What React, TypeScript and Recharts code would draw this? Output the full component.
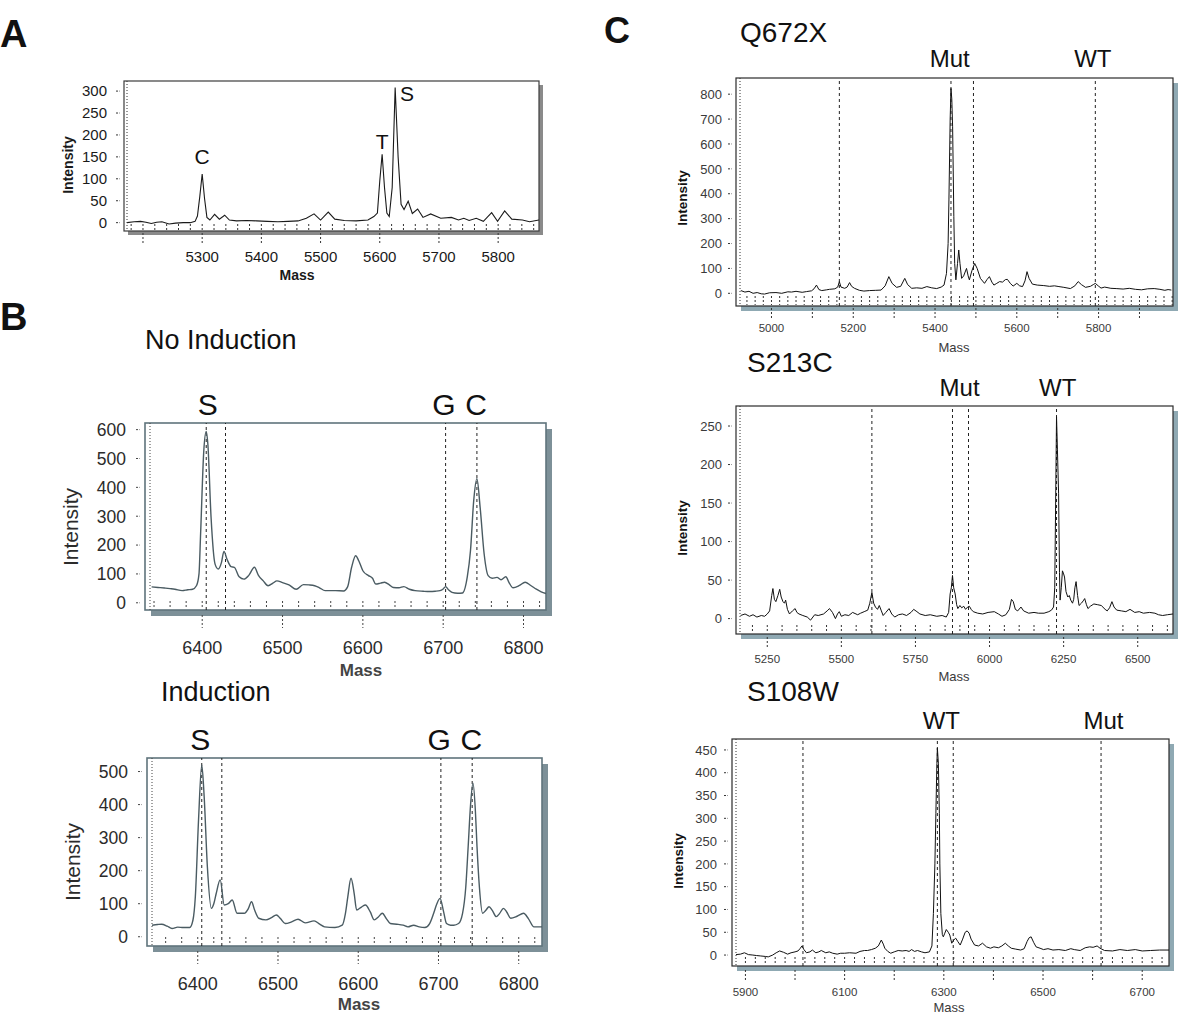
import React from "react";
import { LineChart, Line, XAxis, YAxis, ReferenceArea, ReferenceLine, ReferenceDot } from "recharts";

const FONT = '"Liberation Sans", Arial, Helvetica, sans-serif';

// ---- spectra, [mass, intensity] ----
const spectrumA: [number, number][] = [
  [5173, 0], [5185, 2], [5196, 3], [5205, 1], [5214, -2], [5223, 1], [5232, 2], [5244, -3], [5255, -1], [5268, 0],
  [5280, 0], [5288, 3], [5292, 15], [5296, 60], [5300, 111], [5304, 55], [5308, 12], [5313, 6], [5321, 19], [5329, 8],
  [5338, 17], [5346, 6], [5358, 4], [5375, 5], [5392, 4], [5410, 3], [5428, 2], [5445, 3], [5462, 4], [5476, 10],
  [5489, 20], [5500, 6], [5513, 24], [5524, 8], [5540, 5], [5560, 4], [5580, 6], [5590, 14], [5596, 22], [5600, 95],
  [5604, 156], [5608, 80], [5612, 22], [5616, 14], [5621, 80], [5626, 308], [5631, 150], [5636, 42], [5641, 30], [5648, 49],
  [5655, 21], [5664, 31], [5673, 12], [5686, 20], [5703, 10], [5721, 12], [5733, 6], [5742, 10], [5751, 5], [5763, 10],
  [5775, 3], [5789, 23], [5799, 3], [5811, 27], [5823, 8], [5841, 6], [5853, 2], [5869, 6],
];

const spectrumNoInduction: [number, number][] = [
  [6337, 55], [6345, 53], [6353, 51], [6360, 49], [6366, 47], [6375, 42], [6382, 45], [6388, 47], [6393, 60], [6396, 100],
  [6398, 239], [6402, 528], [6405, 594], [6407, 551], [6411, 297], [6416, 134], [6420, 117], [6424, 140], [6427, 178], [6431, 150],
  [6436, 125], [6440, 123], [6446, 90], [6452, 82], [6458, 95], [6465, 123], [6470, 95], [6476, 76], [6482, 59], [6488, 68],
  [6493, 76], [6500, 70], [6508, 62], [6517, 47], [6526, 63], [6533, 62], [6540, 59], [6546, 52], [6553, 42], [6566, 42],
  [6576, 41], [6581, 55], [6586, 123], [6591, 163], [6595, 145], [6600, 111], [6607, 94], [6612, 85], [6616, 65], [6622, 68],
  [6627, 71], [6633, 62], [6638, 53], [6645, 52], [6651, 56], [6658, 47], [6665, 42], [6675, 40], [6683, 39], [6690, 40],
  [6696, 42], [6700, 48], [6703, 56], [6707, 44], [6711, 36], [6718, 33], [6724, 34], [6730, 90], [6734, 181], [6738, 354],
  [6742, 430], [6746, 331], [6751, 169], [6756, 94], [6761, 85], [6767, 88], [6772, 80], [6778, 90], [6782, 70], [6787, 52],
  [6795, 60], [6802, 71], [6809, 60], [6816, 47], [6822, 38], [6828, 32],
];

const spectrumInduction: [number, number][] = [
  [6343, 35], [6350, 37], [6355, 38], [6362, 32], [6368, 25], [6375, 29], [6382, 28], [6390, 28], [6394, 50], [6397, 121],
  [6401, 354], [6405, 520], [6408, 424], [6412, 212], [6417, 86], [6420, 100], [6423, 131], [6428, 172], [6433, 96], [6438, 100],
  [6443, 111], [6449, 71], [6458, 71], [6463, 85], [6467, 106], [6471, 80], [6476, 56], [6485, 51], [6492, 58], [6498, 66],
  [6503, 55], [6509, 40], [6517, 45], [6525, 53], [6534, 42], [6545, 48], [6552, 38], [6558, 30], [6571, 28], [6580, 35],
  [6584, 70], [6587, 121], [6591, 177], [6595, 130], [6598, 81], [6604, 90], [6609, 96], [6615, 75], [6620, 51], [6625, 60],
  [6630, 71], [6635, 55], [6640, 40], [6648, 38], [6656, 35], [6662, 30], [6669, 35], [6676, 30], [6683, 28], [6689, 40],
  [6694, 71], [6698, 100], [6702, 116], [6706, 80], [6710, 40], [6715, 35], [6719, 35], [6725, 40], [6730, 71], [6734, 150],
  [6737, 273], [6740, 400], [6743, 465], [6746, 380], [6748, 273], [6751, 150], [6755, 71], [6759, 80], [6763, 91], [6767, 80],
  [6772, 61], [6776, 70], [6781, 86], [6785, 75], [6790, 56], [6798, 62], [6806, 71], [6812, 55], [6819, 30], [6829, 30],
];

const spectrumQ672X: [number, number][] = [
  [4925, 11], [4935, 5], [4945, 8], [4955, 0], [4965, 3], [4975, -2], [4983, -3], [4995, 2], [5011, 3], [5025, 0],
  [5040, 6], [5049, 5], [5060, 8], [5075, 4], [5086, 7], [5098, 10], [5104, 18], [5110, 33], [5116, 15], [5123, 11],
  [5135, 14], [5142, 16], [5155, 18], [5162, 25], [5166, 47], [5170, 25], [5179, 20], [5185, 25], [5191, 43], [5196, 28],
  [5203, 20], [5215, 12], [5226, 9], [5240, 11], [5255, 12], [5268, 13], [5278, 30], [5287, 67], [5295, 40], [5306, 24],
  [5316, 28], [5326, 60], [5333, 35], [5343, 20], [5355, 22], [5368, 20], [5380, 27], [5392, 22], [5404, 19], [5415, 25],
  [5422, 33], [5428, 80], [5432, 200], [5434, 375], [5437, 700], [5439, 823], [5441, 780], [5443, 669], [5446, 308], [5448, 120],
  [5451, 54], [5455, 120], [5458, 174], [5461, 120], [5465, 60], [5470, 70], [5477, 100], [5481, 70], [5484, 54], [5490, 90],
  [5497, 120], [5503, 100], [5511, 60], [5521, 40], [5527, 55], [5533, 67], [5539, 45], [5544, 33], [5551, 40], [5558, 47],
  [5565, 45], [5572, 55], [5577, 56], [5584, 40], [5591, 29], [5600, 40], [5607, 30], [5614, 27], [5620, 50], [5625, 87],
  [5630, 60], [5638, 37], [5650, 33], [5666, 31], [5680, 28], [5692, 30], [5703, 27], [5715, 24], [5731, 19], [5742, 30],
  [5750, 47], [5758, 35], [5768, 24], [5780, 28], [5787, 35], [5792, 40], [5799, 30], [5806, 21], [5815, 25], [5830, 20],
  [5843, 19], [5860, 17], [5875, 20], [5890, 16], [5905, 14], [5920, 18], [5936, 19], [5950, 16], [5962, 12], [5970, 15],
  [5978, 13],
];

const spectrumS213C: [number, number][] = [
  [5160, 4], [5175, 6], [5190, 3], [5202, 5], [5215, 2], [5230, 4], [5241, 3], [5250, 6], [5258, 10], [5265, 30],
  [5269, 39], [5274, 25], [5279, 22], [5286, 30], [5292, 38], [5297, 28], [5303, 22], [5308, 20], [5312, 24], [5318, 12],
  [5325, 6], [5335, 10], [5344, 13], [5350, 8], [5357, 6], [5370, 4], [5385, 2], [5396, -2], [5410, 5], [5422, 4],
  [5440, 6], [5452, 10], [5460, 13], [5470, 8], [5480, 0], [5487, 6], [5493, 9], [5500, 3], [5512, 5], [5525, 4],
  [5538, 8], [5555, 5], [5565, 7], [5577, 9], [5589, 11], [5596, 20], [5603, 34], [5609, 20], [5615, 15], [5622, 12],
  [5628, 17], [5635, 10], [5641, 4], [5650, 8], [5661, 13], [5670, 6], [5680, 2], [5693, 5], [5706, 6], [5720, 4],
  [5735, 8], [5744, 12], [5755, 9], [5765, 6], [5783, 4], [5800, 5], [5822, 3], [5840, 4], [5854, 2], [5862, 8],
  [5867, 32], [5871, 40], [5875, 56], [5879, 40], [5884, 32], [5889, 18], [5893, 13], [5900, 17], [5906, 14], [5913, 16],
  [5919, 12], [5926, 15], [5932, 16], [5938, 12], [5945, 9], [5960, 7], [5977, 6], [5995, 8], [6016, 9], [6030, 6],
  [6042, 3], [6055, 5], [6067, 12], [6074, 25], [6080, 22], [6087, 12], [6095, 10], [6106, 15], [6115, 10], [6132, 7],
  [6150, 8], [6165, 7], [6184, 7], [6200, 9], [6209, 11], [6216, 15], [6220, 40], [6223, 150], [6226, 262], [6229, 220],
  [6233, 162], [6236, 60], [6238, 24], [6242, 40], [6246, 62], [6250, 58], [6253, 54], [6258, 35], [6264, 28], [6269, 30],
  [6274, 24], [6280, 20], [6284, 25], [6288, 40], [6292, 48], [6297, 30], [6302, 17], [6310, 20], [6316, 23], [6321, 26],
  [6327, 18], [6332, 13], [6340, 16], [6352, 19], [6365, 18], [6377, 17], [6390, 12], [6397, 10], [6405, 14], [6413, 22],
  [6420, 15], [6429, 11], [6445, 10], [6460, 9], [6474, 12], [6490, 8], [6505, 9], [6519, 7], [6540, 8], [6558, 7],
  [6570, 5], [6584, 4], [6600, 5], [6619, 6],
];

const spectrumS108W: [number, number][] = [
  [5881, 1], [5890, 2], [5898, 5], [5906, 1], [5915, 0], [5922, -1], [5931, -2], [5940, -3], [5946, -4], [5955, 0],
  [5962, 5], [5969, 9], [5977, 6], [5985, 2], [5992, 5], [6000, 7], [6006, 9], [6010, 14], [6014, 20], [6018, 12],
  [6023, 5], [6030, 7], [6035, 11], [6042, 5], [6048, 7], [6053, 10], [6062, 5], [6069, 7], [6076, 4], [6085, 2],
  [6092, 4], [6100, 4], [6110, 5], [6123, 4], [6131, 8], [6140, 10], [6146, 10], [6154, 12], [6162, 15], [6168, 20],
  [6174, 33], [6178, 24], [6181, 15], [6187, 8], [6193, 4], [6200, 7], [6208, 10], [6216, 9], [6224, 10], [6230, 8],
  [6235, 12], [6241, 8], [6247, 10], [6255, 7], [6262, 5], [6271, 7], [6276, 20], [6279, 91], [6282, 200], [6284, 311],
  [6286, 420], [6287, 454], [6289, 421], [6291, 311], [6292, 200], [6294, 91], [6297, 45], [6299, 40], [6302, 48], [6305, 56],
  [6309, 50], [6312, 44], [6316, 26], [6320, 33], [6324, 37], [6328, 30], [6333, 22], [6338, 35], [6343, 50], [6347, 53],
  [6351, 48], [6355, 35], [6362, 22], [6370, 20], [6378, 26], [6386, 18], [6394, 15], [6401, 18], [6410, 16], [6417, 20],
  [6424, 26], [6430, 20], [6436, 15], [6445, 13], [6455, 11], [6462, 14], [6468, 30], [6472, 38], [6476, 40], [6481, 28],
  [6486, 18], [6494, 15], [6501, 12], [6510, 14], [6520, 11], [6532, 12], [6545, 10], [6556, 14], [6563, 12], [6575, 10],
  [6585, 16], [6594, 18], [6601, 17], [6609, 20], [6615, 15], [6624, 10], [6640, 9], [6655, 12], [6670, 10], [6686, 12],
  [6700, 9], [6717, 10], [6735, 11], [6754, 11],
];

// dashed marker lines (mass)
const markersNoInduction = [6405, 6429, 6703, 6742];
const markersInduction = [6405, 6430, 6703, 6742];
const markersQ672X = [5166, 5439, 5494, 5792];
const markersS213C = [5603, 5875, 5929, 6226];
const markersS108W = [6016, 6287, 6319, 6617];

// peak names
const tagsA = [{ text: "C", mass: 5300, intensity: 151 }, { text: "T", mass: 5604, intensity: 185 }, { text: "S", mass: 5646, intensity: 294 }];
const tagsNoInduction = [{ text: "S", mass: 6407 }, { text: "G", mass: 6701 }, { text: "C", mass: 6741 }];
const tagsInduction = [{ text: "S", mass: 6403 }, { text: "G", mass: 6701 }, { text: "C", mass: 6741 }];
const tagsQ672X = [{ text: "Mut", mass: 5436 }, { text: "WT", mass: 5786 }];
const tagsS213C = [{ text: "Mut", mass: 5899 }, { text: "WT", mass: 6230 }];
const tagsS108W = [{ text: "WT", mass: 6295 }, { text: "Mut", mass: 6622 }];

// tick labels
const xLabelsA = [5300, 5400, 5500, 5600, 5700, 5800];
const xLabelsB = [6400, 6500, 6600, 6700, 6800];
const xLabelsQ672X = [5000, 5200, 5400, 5600, 5800];
const xLabelsS213C = [5250, 5500, 5750, 6000, 6250, 6500];
const xLabelsS108W = [5900, 6100, 6300, 6500, 6700];
const yTicksA = [0, 50, 100, 150, 200, 250, 300];
const yTicksNoInduction = [0, 100, 200, 300, 400, 500, 600];
const yTicksInduction = [0, 100, 200, 300, 400, 500];
const yTicksQ672X = [0, 100, 200, 300, 400, 500, 600, 700, 800];
const yTicksS213C = [0, 50, 100, 150, 200, 250];
const yTicksS108W = [0, 50, 100, 150, 200, 250, 300, 350, 400, 450];

const steps = (from: number, to: number, step: number) => {
  const out: number[] = [];
  for (let v = from; v <= to; v += step) out.push(v);
  return out;
};

type Theme = {
  frame: string; frameWidth: number; inset: number; shadow: number; shadowColor: string;
  line: string; lineWidth: number; tick: string; text: string; curve: "linear" | "monotone";
  inner: number; majorFrom: number; majorTo: number; xLabelDy: number; xFont: number;
  dashFrom: number; dashTo: number; yGap: number; yFont: number;
  tagFont: number; tagOffset: number;
};

const themeA: Theme = {
  frame: "#3c3c3c", frameWidth: 1.2, inset: 3, shadow: 4, shadowColor: "#8a8a8a",
  line: "#1a1a1a", lineWidth: 1.1, tick: "#333", text: "#1a1a1a", curve: "linear",
  inner: 7, majorFrom: 2, majorTo: 12, xLabelDy: 31, xFont: 15,
  dashFrom: 11, dashTo: 7, yGap: 20, yFont: 15, tagFont: 21, tagOffset: 0,
};
const themeB: Theme = {
  frame: "#5f747c", frameWidth: 1.6, inset: 5, shadow: 6, shadowColor: "#7d9098",
  line: "#4a5b62", lineWidth: 1.4, tick: "#444", text: "#2b2b2b", curve: "monotone",
  inner: 9, majorFrom: 5, majorTo: 18, xLabelDy: 44, xFont: 18,
  dashFrom: 14, dashTo: 10, yGap: 24, yFont: 17.5, tagFont: 30, tagOffset: 8,
};
const themeC: Theme = {
  frame: "#2b2b2b", frameWidth: 1.2, inset: 4, shadow: 5, shadowColor: "#8fa9b3",
  line: "#111", lineWidth: 1, tick: "#333", text: "#3a3a3a", curve: "linear",
  inner: 10, majorFrom: 2, majorTo: 12, xLabelDy: 26, xFont: 11.5,
  dashFrom: 12, dashTo: 8, yGap: 18, yFont: 13, tagFont: 24, tagOffset: 11,
};

type Title = { x: number; y: number; size: number; bold?: boolean; color?: string };

type SpectrumProps = {
  box: [number, number, number, number]; // plot area on the page: left, top, right, bottom
  xDomain: [number, number];
  yDomain: [number, number];
  points: [number, number][];
  xLabels: number[];
  xMajors: number[];
  xMinors: number[];
  yTicks: number[];
  markers: number[];
  tags: { text: string; mass: number; intensity?: number }[];
  theme: Theme;
  intensityTitle: Title;
  massTitle: Title;
};

const YW = 110, MT = 60, XH = 70, MR = 16;

const Spectrum = ({ box, xDomain, yDomain, points, xLabels, xMajors, xMinors, yTicks, markers, tags, theme, intensityTitle, massTitle }: SpectrumProps) => {
  const [l, t, r, b] = box;
  const left = l - YW;
  const top = t - MT;
  const width = YW + (r - l) + MR;
  const height = MT + (b - t) + XH;
  const data = points.map(([mass, intensity]) => ({ mass, intensity }));
  const minors = xMinors.filter((v) => v >= xDomain[0] && v <= xDomain[1]);

  const xTick = (p: any) => {
    const v = p.payload.value as number;
    const { x, y } = p;
    return (
      <g>
        <line x1={x} x2={x} y1={y - theme.inner} y2={y - 1} stroke={theme.tick} strokeDasharray="2 2" />
        {xMajors.includes(v) && (
          <line x1={x} x2={x} y1={y + theme.majorFrom} y2={y + theme.majorTo} stroke={theme.tick} strokeDasharray="2 2" />
        )}
        {xLabels.includes(v) && (
          <text x={x} y={y + theme.xLabelDy} textAnchor="middle" fontSize={theme.xFont} fontFamily={FONT} fill={theme.text}>
            {v}
          </text>
        )}
      </g>
    );
  };

  const yTick = (p: any) => {
    const v = p.payload.value as number;
    const { x, y } = p;
    return (
      <g>
        <line x1={x - theme.dashFrom} x2={x - theme.dashTo} y1={y} y2={y} stroke={theme.tick} strokeDasharray="2 1.5" />
        <text x={x - theme.yGap} y={y} dy="0.36em" textAnchor="end" fontSize={theme.yFont} fontFamily={FONT} fill={theme.text}>
          {v}
        </text>
      </g>
    );
  };

  const frame = (p: any) => {
    const { x, y, width: w, height: h } = p;
    const s = theme.shadow;
    const inset = theme.inset;
    return (
      <g>
        <rect x={x + w} y={y + s} width={s} height={h} fill={theme.shadowColor} />
        <rect x={x - inset + s} y={y + h} width={w + inset} height={s} fill={theme.shadowColor} />
        <rect x={x - inset} y={y} width={w + inset} height={h} fill="none" stroke={theme.frame} strokeWidth={theme.frameWidth} />
      </g>
    );
  };

  const intensityLabel = () => {
    const cx = intensityTitle.x - left;
    const cy = intensityTitle.y - top;
    return (
      <text x={cx} y={cy} dy="0.35em" transform={`rotate(-90 ${cx} ${cy})`} textAnchor="middle"
        fontSize={intensityTitle.size} fontWeight={intensityTitle.bold ? "bold" : "normal"} fontFamily={FONT}
        fill={intensityTitle.color || theme.text}>
        Intensity
      </text>
    );
  };

  const massLabel = () => (
    <text x={massTitle.x - left} y={massTitle.y - top} dy="0.35em" textAnchor="middle"
      fontSize={massTitle.size} fontWeight={massTitle.bold ? "bold" : "normal"} fontFamily={FONT}
      fill={massTitle.color || theme.text}>
      Mass
    </text>
  );

  return (
    <div style={{ position: "absolute", left, top }}>
      <LineChart width={width} height={height} data={data} margin={{ top: MT, right: MR, bottom: 0, left: 0 }}>
        <XAxis
          dataKey="mass"
          type="number"
          domain={xDomain}
          allowDataOverflow
          ticks={minors}
          interval={0}
          tick={xTick}
          tickLine={false}
          axisLine={false}
          tickSize={0}
          tickMargin={0}
          height={XH}
          label={massLabel}
        />
        <YAxis
          type="number"
          domain={yDomain}
          allowDataOverflow
          ticks={yTicks}
          interval={0}
          tick={yTick}
          tickLine={false}
          axisLine={{ stroke: theme.tick, strokeDasharray: "1 2" }}
          tickSize={0}
          tickMargin={0}
          width={YW}
          label={intensityLabel}
        />
        <ReferenceArea x1={xDomain[0]} x2={xDomain[1]} y1={yDomain[0]} y2={yDomain[1]} ifOverflow="visible" shape={frame} />
        {markers.map((m) => (
          <ReferenceLine key={m} x={m} stroke="#222" strokeWidth={1} strokeDasharray="3 3" ifOverflow="visible" />
        ))}
        {tags.map((tg) => (
          <ReferenceDot
            key={tg.text + tg.mass}
            x={tg.mass}
            y={tg.intensity ?? yDomain[1]}
            r={0}
            fill="none"
            stroke="none"
            ifOverflow="visible"
            label={{
              value: tg.text,
              position: tg.intensity === undefined ? "top" : "center",
              offset: theme.tagOffset,
              fontSize: theme.tagFont,
              fontFamily: FONT,
              fill: "#111",
            }}
          />
        ))}
        <Line
          dataKey="intensity"
          type={theme.curve}
          stroke={theme.line}
          strokeWidth={theme.lineWidth}
          dot={false}
          activeDot={false}
          isAnimationActive={false}
        />
      </LineChart>
    </div>
  );
};

const headings = [
  { text: "A", x: 0, base: 47, size: 38, bold: true },
  { text: "B", x: 0, base: 330, size: 38, bold: true },
  { text: "C", x: 604, base: 43, size: 36, bold: true },
  { text: "No Induction", x: 145, base: 350, size: 27 },
  { text: "Induction", x: 161, base: 702, size: 27 },
  { text: "Q672X", x: 740, base: 43, size: 28 },
  { text: "S213C", x: 747, base: 373, size: 28 },
  { text: "S108W", x: 747, base: 702, size: 28 },
];

export default function App() {
  return (
    <div style={{ position: "absolute", left: 0, top: 0, width: 1200, height: 1017, background: "#fff", fontFamily: FONT, overflow: "hidden" }}>
      {headings.map((h) => (
        <div
          key={h.text}
          style={{
            position: "absolute",
            left: h.x,
            top: h.base - 0.8465 * h.size,
            fontSize: h.size,
            lineHeight: 1,
            fontWeight: h.bold ? "bold" : "normal",
            color: "#111",
            whiteSpace: "nowrap",
          }}
        >
          {h.text}
        </div>
      ))}

      <Spectrum
        box={[127, 81, 539, 231]}
        xDomain={[5173, 5869]}
        yDomain={[-19, 323]}
        points={spectrumA}
        xLabels={xLabelsA}
        xMajors={steps(5200, 5800, 100)}
        xMinors={steps(5180, 5860, 20)}
        yTicks={yTicksA}
        markers={[]}
        tags={tagsA}
        theme={themeA}
        intensityTitle={{ x: 68, y: 165, size: 14, bold: true }}
        massTitle={{ x: 297, y: 275, size: 14, bold: true }}
      />

      <Spectrum
        box={[150, 423, 546, 610]}
        xDomain={[6335, 6828]}
        yDomain={[-25, 623]}
        points={spectrumNoInduction}
        xLabels={xLabelsB}
        xMajors={xLabelsB}
        xMinors={steps(6340, 6820, 20)}
        yTicks={yTicksNoInduction}
        markers={markersNoInduction}
        tags={tagsNoInduction}
        theme={themeB}
        intensityTitle={{ x: 71, y: 527, size: 21 }}
        massTitle={{ x: 361, y: 670, size: 17, bold: true, color: "#444" }}
      />

      <Spectrum
        box={[152, 758, 542, 946]}
        xDomain={[6343, 6829]}
        yDomain={[-28, 541]}
        points={spectrumInduction}
        xLabels={xLabelsB}
        xMajors={xLabelsB}
        xMinors={steps(6360, 6820, 20)}
        yTicks={yTicksInduction}
        markers={markersInduction}
        tags={tagsInduction}
        theme={themeB}
        intensityTitle={{ x: 73, y: 862, size: 21 }}
        massTitle={{ x: 359, y: 1004, size: 17, bold: true, color: "#444" }}
      />

      <Spectrum
        box={[740, 78, 1173, 306]}
        xDomain={[4923, 5982]}
        yDomain={[-51, 865]}
        points={spectrumQ672X}
        xLabels={xLabelsQ672X}
        xMajors={steps(5000, 5900, 100)}
        xMinors={steps(4940, 5980, 20)}
        yTicks={yTicksQ672X}
        markers={markersQ672X}
        tags={tagsQ672X}
        theme={themeC}
        intensityTitle={{ x: 682, y: 198, size: 13.5, bold: true, color: "#111" }}
        massTitle={{ x: 954, y: 347, size: 13 }}
      />

      <Spectrum
        box={[740, 406, 1173, 634]}
        xDomain={[5158, 6619]}
        yDomain={[-20, 276]}
        points={spectrumS213C}
        xLabels={xLabelsS213C}
        xMajors={xLabelsS213C}
        xMinors={steps(5200, 6600, 50)}
        yTicks={yTicksS213C}
        markers={markersS213C}
        tags={tagsS213C}
        theme={{ ...themeC, majorFrom: 3, majorTo: 14, xLabelDy: 29, inner: 9, tagOffset: 10 }}
        intensityTitle={{ x: 682, y: 528, size: 13.5, bold: true, color: "#111" }}
        massTitle={{ x: 954, y: 676, size: 13 }}
      />

      <Spectrum
        box={[736, 739, 1169, 966]}
        xDomain={[5881, 6754]}
        yDomain={[-24, 474]}
        points={spectrumS108W}
        xLabels={xLabelsS108W}
        xMajors={steps(5900, 6700, 100)}
        xMinors={steps(5900, 6740, 20)}
        yTicks={yTicksS108W}
        markers={markersS108W}
        tags={tagsS108W}
        theme={{ ...themeC, majorFrom: 4, majorTo: 16, xLabelDy: 30, inner: 9, tagOffset: 10, yGap: 19 }}
        intensityTitle={{ x: 678, y: 861, size: 13.5, bold: true, color: "#111" }}
        massTitle={{ x: 949, y: 1007, size: 13 }}
      />
    </div>
  );
}
